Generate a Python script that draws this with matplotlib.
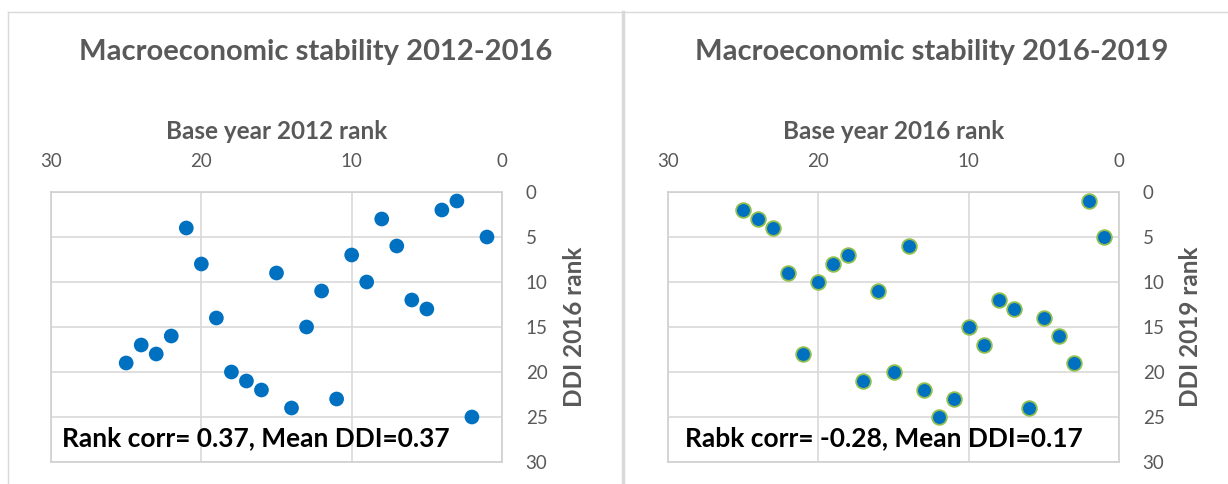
import matplotlib.pyplot as plt
from matplotlib.lines import Line2D

plt.rcParams['font.family'] = ['Lato', 'DejaVu Sans']

# left panel: base year 2012 rank vs DDI 2016 rank
rank_2012 = [3, 4, 8, 21, 1, 7, 10, 20, 15, 9, 12, 6, 5, 19, 13, 22, 24, 23, 25, 18, 17, 16, 11, 14, 2]
ddi_2016 = [1, 2, 3, 4, 5, 6, 7, 8, 9, 10, 11, 12, 13, 14, 15, 16, 17, 18, 19, 20, 21, 22, 23, 24, 25]

# right panel: base year 2016 rank vs DDI 2019 rank
rank_2016 = [2, 25, 24, 23, 1, 14, 18, 19, 22, 20, 16, 8, 7, 5, 10, 4, 9, 21, 3, 15, 17, 13, 11, 6, 12]
ddi_2019 = [1, 2, 3, 4, 5, 6, 7, 8, 9, 10, 11, 12, 13, 14, 15, 16, 17, 18, 19, 20, 21, 22, 23, 24, 25]

titles = ["Macroeconomic stability 2012-2016", "Macroeconomic stability 2016-2019"]
xlabels = ["Base year 2012 rank", "Base year 2016 rank"]
ylabels = ["DDI 2016 rank", "DDI 2019 rank"]
notes = ["Rank corr= 0.37, Mean DDI=0.37", "Rabk corr= -0.28, Mean DDI=0.17"]

W, H = 1228, 484
grey = '#595959'
grid_col = '#D9D9D9'
blue = '#0070C0'

fig = plt.figure(figsize=(W / 100, H / 100), dpi=100)

# panel borders
border = '#D9D9D9'
fig.add_artist(Line2D([8 / W, 1], [1 - 12 / H, 1 - 12 / H], color=border, lw=1))
fig.add_artist(Line2D([8 / W, 8 / W], [0, 1 - 12 / H], color=border, lw=1))
fig.add_artist(Line2D([623 / W, 623 / W], [0, 1 - 12 / H], color=border, lw=2.5))

panels = [
    (51, rank_2012, ddi_2016, 316, dict(color=blue, edgecolor='none')),
    (668, rank_2016, ddi_2019, 932, dict(color=blue, edgecolor='#92C050', linewidths=1.3)),
]

for i, (left_px, xs, ys, title_x, style) in enumerate(panels):
    ax = fig.add_axes([left_px / W, 1 - 462 / H, 451 / W, 270 / H])
    ax.scatter(xs, ys, s=112, zorder=3, **style)
    ax.set_xlim(30, 0)
    ax.set_ylim(30, 0)
    ax.set_xticks([30, 20, 10, 0])
    ax.set_yticks([0, 5, 10, 15, 20, 25, 30])
    ax.xaxis.tick_top()
    ax.yaxis.tick_right()
    ax.tick_params(length=0, labelsize=13.5, labelcolor=grey)
    ax.tick_params(axis='x', pad=16)
    ax.tick_params(axis='y', pad=17)
    for lab in ax.get_yticklabels():
        lab.set_horizontalalignment('left')
    ax.grid(True, color=grid_col, lw=1.2)
    ax.set_axisbelow(True)
    for sp in ax.spines.values():
        sp.set_color('#D0D0D0')
        sp.set_linewidth(1.2)

    ax.xaxis.set_label_position('top')
    ax.set_xlabel(xlabels[i], fontsize=17.5, fontweight='bold', color=grey, labelpad=10)
    fig.text(((left_px + 524 + (0 if i == 0 else -2)) / W), 1 - 327 / H, ylabels[i],
             rotation=90, ha='center', va='center', fontsize=17.5,
             fontweight='bold', color=grey)
    fig.text(title_x / W, 1 - 52 / H, titles[i], ha='center', va='center',
             fontsize=21, fontweight='bold', color=grey)
    ax.text((62 - 51) / 451 if i == 0 else (685 - 668) / 451, 0.089, notes[i],
            transform=ax.transAxes, ha='left', va='center', fontsize=19,
            fontweight='bold', color='black', zorder=4)

fig.savefig('out.png', dpi=100)
